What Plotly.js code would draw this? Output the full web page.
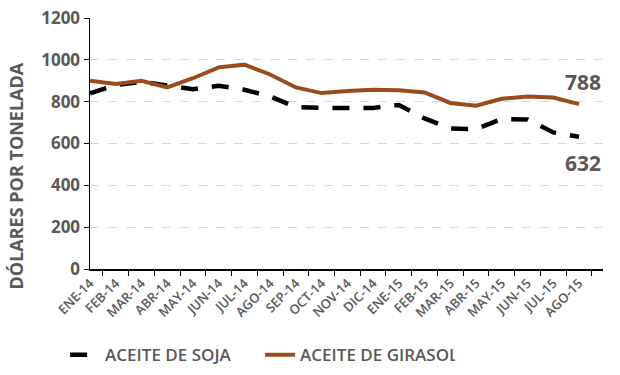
<!DOCTYPE html>
<html><head><meta charset="utf-8">
<script src="https://cdn.plot.ly/plotly-3.0.1.min.js"></script>
<style>body{margin:0;background:#fff}#c{width:620px;height:375px}</style>
</head><body><div id="c"></div>
<script>
const months = ["ENE-14","FEB-14","MAR-14","ABR-14","MAY-14","JUN-14","JUL-14","AGO-14","SEP-14","OCT-14","NOV-14","DIC-14","ENE-15","FEB-15","MAR-15","ABR-15","MAY-15","JUN-15","JUL-15","AGO-15"];
const soja = [840,880,895,880,860,876,857,825,774,770,770,770,784,720,672,669,717,715,653,632];
const girasol = [900,885,900,868,912,964,977,930,868,841,851,857,854,844,794,781,814,825,820,788];
const lastLabels = ["788","632"];
const yTitle = "DÓLARES POR TONELADA";

const gray = "#595959";
const font = "Open Sans, DejaVu Sans, sans-serif";
const traces = [
  {x: months, y: soja, type: "scatter", mode: "lines", name: "ACEITE DE SOJA",
   line: {color: "#000000", width: 4.5, dash: "17px,14px"}},
  {x: months, y: girasol, type: "scatter", mode: "lines", name: "ACEITE DE GIRASOL",
   line: {color: "#9B4C1C", width: 4}}
];
const layout = {
  width: 620, height: 375,
  margin: {l: 90, r: 17, t: 18, b: 106},
  paper_bgcolor: "#fff", plot_bgcolor: "#fff",
  font: {family: font, color: gray},
  showlegend: true,
  legend: {orientation: "h", xref: "container", yref: "container", x: 0.105, xanchor: "left",
           y: 0.053, yanchor: "middle", entrywidth: 150, entrywidthmode: "pixels",
           font: {size: 17, color: gray, family: font, weight: 600}, traceorder: "normal"},
  xaxis: {type: "category", automargin: false, showline: true, linecolor: "#000", linewidth: 1.5,
          ticks: "outside", tickson: "boundaries", ticklen: 5, tickcolor: "#000",
          tickangle: -45, tickfont: {size: 13, color: gray, weight: 600}, showgrid: false, zeroline: false},
  yaxis: {range: [0, 1200], dtick: 200, automargin: false, showline: true, linecolor: "#000", linewidth: 1.5,
          ticks: "outside", ticklen: 5, tickcolor: "#000",
          tickfont: {size: 17, color: gray, family: font, weight: "bold"},
          showgrid: true, gridcolor: "#d3d9e2", griddash: "dash", gridwidth: 1, zeroline: false},
  annotations: [
    {xref: "paper", yref: "paper", x: 0, y: 0.5, xshift: -75, yshift: -33, textangle: -90,
     text: yTitle, showarrow: false, xanchor: "center", yanchor: "middle",
     font: {size: 18, color: gray, weight: "bold"}},
    {x: months[months.length-1], y: girasol[girasol.length-1], text: lastLabels[0], showarrow: false,
     xanchor: "center", yanchor: "bottom", yshift: 6, xshift: 4,
     font: {size: 21, color: gray, weight: "bold"}},
    {x: months[months.length-1], y: soja[soja.length-1], text: lastLabels[1], showarrow: false,
     xanchor: "center", yanchor: "top", yshift: -10, xshift: 4,
     font: {size: 21, color: gray, weight: "bold"}}
  ]
};
Plotly.newPlot("c", traces, layout, {displayModeBar: false, staticPlot: true});
</script></body></html>
